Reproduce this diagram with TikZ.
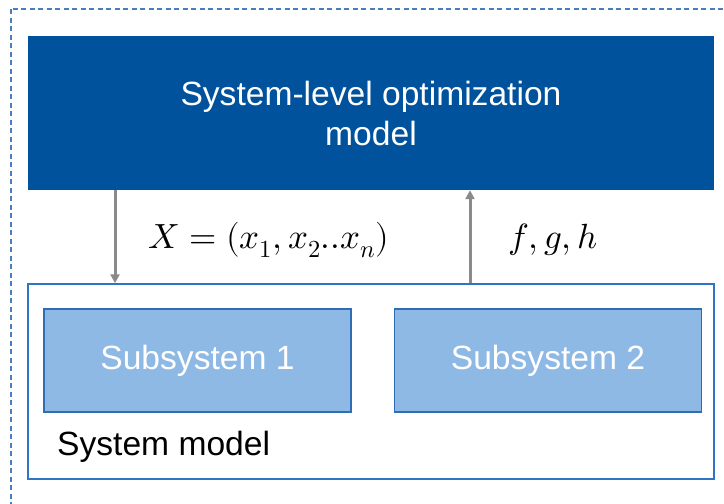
\documentclass[tikz,border=0pt]{standalone}
\usepackage{amsmath}
\usepackage{unicode-math}
\setmainfont{Liberation Sans}
\setmathfont{Latin Modern Math}
\usetikzlibrary{arrows.meta,positioning}

\definecolor{optblue}{RGB}{0,82,156}
\definecolor{subfill}{RGB}{142,185,228}
\definecolor{subline}{RGB}{47,110,181}
\definecolor{sysline}{RGB}{46,117,197}
\definecolor{frameline}{RGB}{74,126,187}
\definecolor{flowgray}{RGB}{138,138,138}

\begin{document}
\begin{tikzpicture}[x=1pt,y=-1pt,
                optbox/.style={rectangle,fill=optblue,draw=none,text=white,
                  minimum width=686pt,minimum height=154pt,align=center,
                  text depth=0pt,font=\fontsize{33.6}{40}\selectfont},
                subbox/.style={rectangle,fill=subfill,draw=subline,line width=1.5pt,
                  text=white,minimum width=307pt,minimum height=103pt,
                  font=\fontsize{33.6}{39}\selectfont},
                sysbox/.style={rectangle,draw=sysline,line width=1.5pt,
                  minimum width=686pt,minimum height=195pt},
                flow/.style={draw=flowgray,line width=3pt,
                  -{Triangle[length=9pt,width=9pt]},shorten >=0pt},
                mathlbl/.style={font=\fontsize{35}{40}\selectfont}]
            \clip (0,0) rectangle (724,504);
            \draw [frameline,line width=1.8pt,dash pattern=on 5pt off 3.5pt]
              (11,9) rectangle (740,520);
            \node [optbox]                 (opt)  at (371,113)   {System-level optimization\\model};
            \node [sysbox]                 (sys)  at (371,381.5) {};
            \node [subbox]                 (sub1) at (197.5,360.5) {Subsystem 1};
            \node [subbox,right=42pt of sub1] (sub2)             {Subsystem 2};
            \node [anchor=west,inner sep=0pt,font=\fontsize{33.6}{39}\selectfont]
                                           (syslbl) at (57,447)  {System model};
            \coordinate (dn) at (115,0);
            \coordinate (up) at (470,0);
            \path   (opt.south -| dn) edge [flow] (sys.north -| dn)
                    (sys.north -| up) edge [flow] (opt.south -| up);
            \node [mathlbl] (xvec) at (269,240) {$X=(x_1,x_2..x_n)$};
            \node [mathlbl] (fgh)  at (553,240) {$f,g,h$};
        \end{tikzpicture}
\end{document}
